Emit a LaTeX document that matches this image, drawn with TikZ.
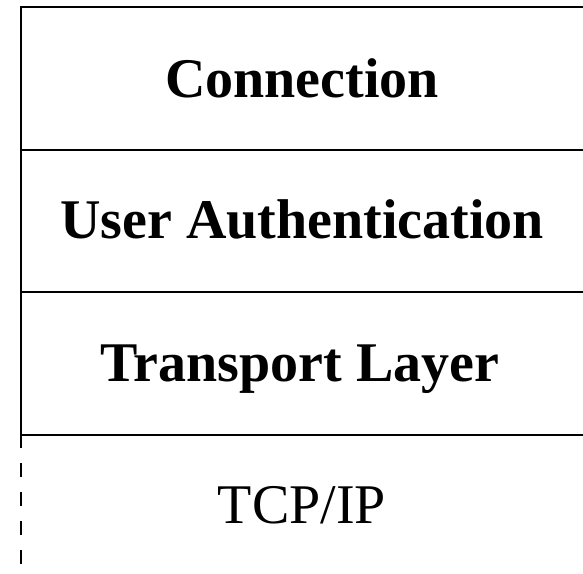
\documentclass[tikz,border=0pt]{standalone}
\usepackage{fontspec}
\setmainfont{Liberation Serif}
\begin{document}
\begin{tikzpicture}[x=1pt,y=1pt,
  rule/.style={line width=1.5pt, black},
  layertext/.style={anchor=base, inner sep=0pt, font=\fontsize{56}{60}\selectfont\bfseries},
  basetext/.style={anchor=base, inner sep=0pt, font=\fontsize{56}{60}\selectfont}]
  \useasboundingbox (0,0) rectangle (583,573);
  % stack outline
  \coordinate (tl) at (21,566);
  \coordinate (tr) at (583,566);
  \coordinate (l1) at (21,423);
  \coordinate (r1) at (583,423);
  \coordinate (l2) at (21,281);
  \coordinate (r2) at (583,281);
  \coordinate (l3) at (21,138);
  \coordinate (r3) at (583,138);
  \coordinate (ls) at (21,125);
  \coordinate (lb) at (21,0);
  \draw[rule] (tr) -- (tl) -- (ls);
  \draw[rule] (l1) -- (r1);
  \draw[rule] (l2) -- (r2);
  \draw[rule] (l3) -- (r3);
  \draw[rule, dash pattern=on 14pt off 15pt, dash phase=14pt] (ls) -- (lb);
  % layer labels
  \node[layertext] (conn) at (302,475) {Connection};
  \node[layertext] (auth) at (302,334) {User Authentication};
  \node[layertext] (trans) at (300,191) {Transport Layer};
  \node[basetext] (tcp) at (302,50) {TCP/IP};
\end{tikzpicture}
\end{document}
